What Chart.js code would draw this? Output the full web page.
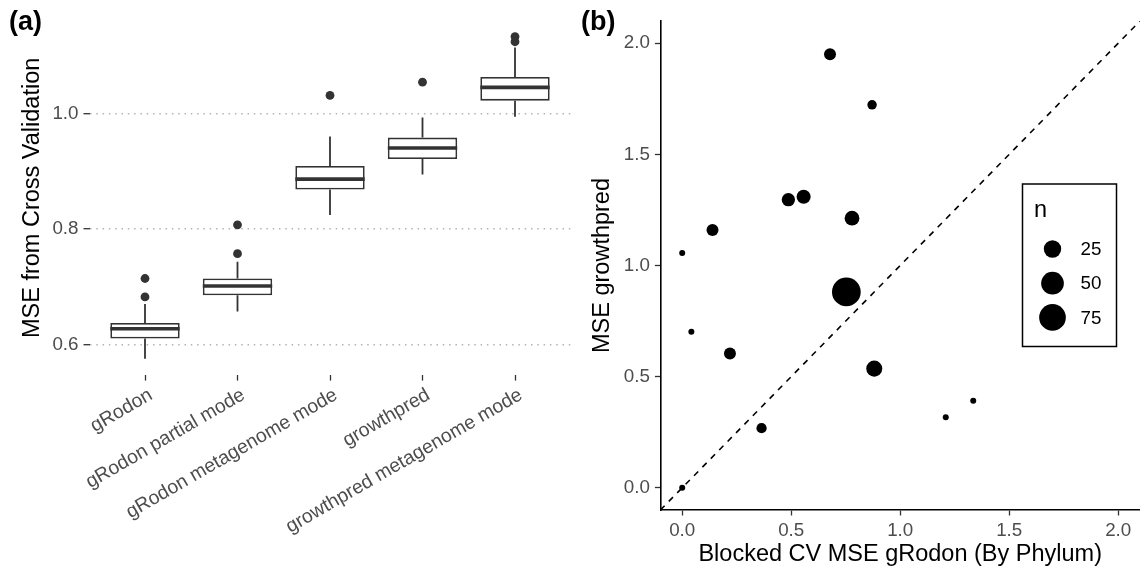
<!DOCTYPE html>
<html>
<head>
<meta charset="utf-8">
<script src="https://cdn.jsdelivr.net/npm/chart.js@4.4.1/dist/chart.umd.min.js"></script>
<style>
  body { margin: 0; background: #fff; }
  #wrap { position: relative; width: 1140px; height: 571px; }
  canvas { position: absolute; top: 0; }
  #boxChart { left: 0; }
  #phylumChart { left: 580px; }
</style>
</head>
<body>
<div id="wrap">
  <canvas id="boxChart" width="580" height="571"></canvas>
  <canvas id="phylumChart" width="560" height="571"></canvas>
</div>
<script>
// ---- panel (a): cross validation MSE per method ----
const boxLabels = ['gRodon', 'gRodon partial mode', 'gRodon metagenome mode', 'growthpred', 'growthpred metagenome mode'];
const boxLower  = [0.575, 0.657, 0.824, 0.894, 0.994];
const boxQ1     = [0.610, 0.685, 0.868, 0.921, 1.022];
const boxMedian = [0.627, 0.701, 0.886, 0.940, 1.045];
const boxQ3     = [0.637, 0.714, 0.909, 0.958, 1.063];
const boxUpper  = [0.670, 0.743, 0.960, 0.993, 1.114];
// outliers: which box (1-based) and value
const outlierBox    = [1, 1, 2, 2, 3, 4, 5, 5];
const outlierValues = [0.714, 0.682, 0.807, 0.757, 1.031, 1.054, 1.133, 1.124];
const yTicksA  = [0.6, 0.8, 1.0];
const yRangeA  = [0.5467, 1.1606];

// ---- panel (b): blocked CV by phylum ----
const phylumX = [0.678, 0.871, 0.487, 0.557, 0.779, 0.139, 0.000, 0.753, 0.042, 0.219, 0.881, 0.364, 1.209, 1.335, 0.000];
const phylumY = [1.950, 1.723, 1.296, 1.309, 1.213, 1.160, 1.056, 0.881, 0.702, 0.604, 0.536, 0.268, 0.317, 0.391, 0.000];
const phylumN = [9, 5, 12, 14, 16, 9, 3, 90, 3, 9, 20, 6, 3, 3, 3];
const sizeBreaks = [25, 50, 75];
const ticksB  = [0, 0.5, 1, 1.5, 2];
const limitsB = [-0.1, 2.1];

const FONT = "'Liberation Sans', Arial, Helvetica, sans-serif";
Chart.defaults.font.family = FONT;

// area scaling like ggplot's scale_size (sqrt of rescaled n)
const nMin = Math.min(...phylumN);
const nMax = Math.max(...phylumN);
function sizeOf(n) {
  const t = Math.sqrt(Math.max(0, (n - nMin) / (nMax - nMin)));
  return (6 + 22.7 * t) / 2;
}

// keep the chart area where we put it, no extra room for edge labels
function noEdgePadding(axis) {
  axis.paddingLeft = 0;
  axis.paddingRight = 0;
  axis.paddingTop = 0;
  axis.paddingBottom = 0;
}

// "(a)" / "(b)" tags
const panelTag = {
  id: 'panelTag',
  afterDraw(chart, args, opts) {
    const ctx = chart.ctx;
    ctx.save();
    ctx.fillStyle = '#000';
    ctx.font = 'bold 27px ' + FONT;
    ctx.textBaseline = 'alphabetic';
    ctx.fillText(opts.text, opts.x, opts.y);
    ctx.restore();
  }
};

// whiskers + medians on top of the floating bars
const boxPlotLines = {
  id: 'boxPlotLines',
  afterDatasetsDraw(chart) {
    const ctx = chart.ctx;
    const y = chart.scales.y;
    const bars = chart.getDatasetMeta(0).data;
    ctx.save();
    ctx.strokeStyle = '#333333';
    bars.forEach(function (bar, i) {
      const px = bar.x;
      const half = bar.width / 2;
      ctx.lineWidth = 1.8;
      ctx.beginPath();
      ctx.moveTo(px, y.getPixelForValue(boxQ3[i]));
      ctx.lineTo(px, y.getPixelForValue(boxUpper[i]));
      ctx.moveTo(px, y.getPixelForValue(boxQ1[i]));
      ctx.lineTo(px, y.getPixelForValue(boxLower[i]));
      ctx.stroke();
      const ym = y.getPixelForValue(boxMedian[i]);
      ctx.lineWidth = 3.6;
      ctx.beginPath();
      ctx.moveTo(px - half, ym);
      ctx.lineTo(px + half, ym);
      ctx.stroke();
    });
    ctx.restore();
  }
};

// size legend box for panel (b)
const sizeLegend = {
  id: 'sizeLegend',
  afterDraw(chart) {
    const ctx = chart.ctx;
    ctx.save();
    ctx.strokeStyle = '#000';
    ctx.lineWidth = 1.5;
    ctx.strokeRect(442.5, 184, 94, 162.5);
    ctx.fillStyle = '#000';
    ctx.font = '23.5px ' + FONT;
    ctx.textBaseline = 'alphabetic';
    ctx.fillText('n', 454, 217);
    ctx.font = '18.8px ' + FONT;
    ctx.textBaseline = 'middle';
    sizeBreaks.forEach(function (n, i) {
      const cy = 249 + i * 34.2;
      ctx.beginPath();
      ctx.arc(472.5, cy, sizeOf(n), 0, Math.PI * 2);
      ctx.fill();
      ctx.fillText(String(n), 500.5, cy + 1);
    });
    ctx.restore();
  }
};

const ctxA = document.getElementById('boxChart').getContext('2d');
new Chart(ctxA, {
  type: 'bar',
  data: {
    datasets: [
      {
        type: 'bar',
        label: 'MSE',
        data: boxLabels.map(function (l, i) { return { x: i + 1, y: [boxQ1[i], boxQ3[i]] }; }),
        backgroundColor: '#ffffff',
        borderColor: '#333333',
        borderWidth: 1.8,
        borderSkipped: false,
        barPercentage: 0.75,
        categoryPercentage: 1,
        order: 1
      },
      {
        type: 'scatter',
        label: 'outliers',
        data: outlierBox.map(function (b, i) { return { x: b, y: outlierValues[i] }; }),
        backgroundColor: '#333333',
        pointRadius: 4.4,
        pointBorderWidth: 0,
        order: 0
      }
    ]
  },
  options: {
    responsive: false,
    animation: false,
    layout: { autoPadding: false, padding: { top: 20.6, right: 9.5, left: 0, bottom: 0 } },
    plugins: {
      legend: { display: false },
      tooltip: { enabled: false },
      panelTag: { text: '(a)', x: 9, y: 30 }
    },
    scales: {
      x: {
        type: 'linear',
        bounds: 'data',
        offset: false,
        min: 0.4,
        max: 5.6,
        afterBuildTicks: function (axis) { axis.ticks = boxLabels.map(function (l, i) { return { value: i + 1 }; }); },
        afterFit: function (axis) { axis.height = 195.9; noEdgePadding(axis); },
        grid: { offset: false, drawOnChartArea: false, tickColor: '#333333', tickLength: 5.5, tickWidth: 1.3 },
        border: { display: false },
        ticks: {
          autoSkip: false,
          minRotation: 30,
          maxRotation: 30,
          padding: 3,
          labelOffset: 6,
          color: '#4d4d4d',
          font: { size: 19.4 },
          callback: function (v) { return boxLabels[v - 1]; }
        }
      },
      y: {
        bounds: 'data',
        min: yRangeA[0],
        max: yRangeA[1],
        afterBuildTicks: function (axis) { axis.ticks = yTicksA.map(function (v) { return { value: v }; }); },
        afterFit: function (axis) { axis.width = 89.5; noEdgePadding(axis); },
        grid: { color: '#b3b3b3', lineWidth: 1.4, tickColor: '#333333', tickLength: 6, tickWidth: 1.3 },
        border: { display: false, dash: [1.5, 4.8] },
        ticks: { padding: 5, color: '#4d4d4d', font: { size: 18.8 }, callback: function (v) { return v.toFixed(1); } },
        title: { display: true, text: 'MSE from Cross Validation', color: '#000', font: { size: 23.5 }, padding: { top: 18.8 } }
      }
    }
  },
  plugins: [boxPlotLines, panelTag]
});

const ctxB = document.getElementById('phylumChart').getContext('2d');
new Chart(ctxB, {
  type: 'scatter',
  data: {
    datasets: [
      {
        label: 'phyla',
        data: phylumX.map(function (x, i) { return { x: x, y: phylumY[i], n: phylumN[i] }; }),
        backgroundColor: '#000',
        pointBorderWidth: 0,
        pointRadius: function (c) { return c.raw ? sizeOf(c.raw.n) : 3; },
        order: 0
      },
      {
        type: 'line',
        label: 'identity',
        data: limitsB.map(function (v) { return { x: v, y: v }; }),
        borderColor: '#000',
        borderWidth: 1.6,
        borderDash: [6, 6],
        pointRadius: 0,
        fill: false,
        order: 1
      }
    ]
  },
  options: {
    responsive: false,
    animation: false,
    layout: { autoPadding: false, padding: { top: 21, right: 0, left: 0, bottom: 0 } },
    plugins: {
      legend: { display: false },
      tooltip: { enabled: false },
      panelTag: { text: '(b)', x: 1, y: 30 }
    },
    scales: {
      x: {
        type: 'linear',
        bounds: 'data',
        min: limitsB[0],
        max: limitsB[1],
        afterBuildTicks: function (axis) { axis.ticks = ticksB.map(function (v) { return { value: v }; }); },
        afterFit: function (axis) { axis.height = 61; noEdgePadding(axis); },
        grid: { drawOnChartArea: false, tickColor: '#333333', tickLength: 5.5, tickWidth: 1.3 },
        border: { display: true, color: '#000', width: 1.6 },
        ticks: { padding: 4, color: '#4d4d4d', font: { size: 18.8 }, callback: function (v) { return v.toFixed(1); } },
        title: { display: true, text: 'Blocked CV MSE gRodon (By Phylum)', color: '#000', font: { size: 23.5 }, padding: { top: 0, bottom: 2.5 } }
      },
      y: {
        type: 'linear',
        bounds: 'data',
        min: limitsB[0],
        max: limitsB[1],
        afterBuildTicks: function (axis) { axis.ticks = ticksB.map(function (v) { return { value: v }; }); },
        afterFit: function (axis) { axis.width = 80.4; noEdgePadding(axis); },
        grid: { drawOnChartArea: false, tickColor: '#333333', tickLength: 5.5, tickWidth: 1.3 },
        border: { display: true, color: '#000', width: 1.6 },
        ticks: { padding: 5, color: '#4d4d4d', font: { size: 18.8 }, callback: function (v) { return v.toFixed(1); } },
        title: { display: true, text: 'MSE growthpred', color: '#000', font: { size: 23.5 }, padding: { top: 8.9 } }
      }
    }
  },
  plugins: [sizeLegend, panelTag]
});
</script>
</body>
</html>
